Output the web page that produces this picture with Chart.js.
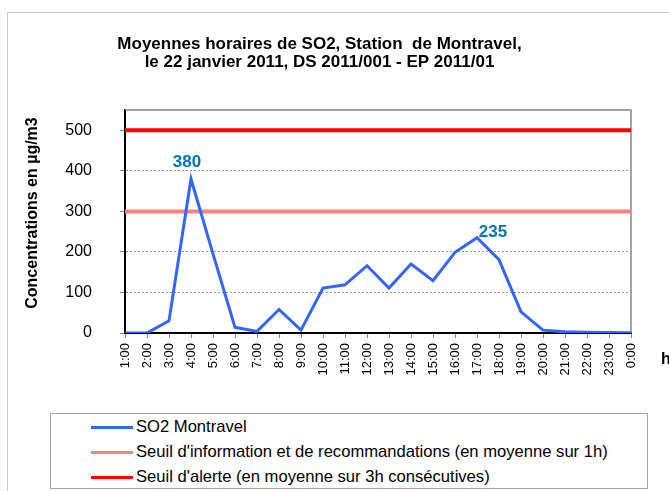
<!DOCTYPE html>
<html>
<head>
<meta charset="utf-8">
<script src="https://cdn.jsdelivr.net/npm/chart.js@4.4.1/dist/chart.umd.min.js"></script>
<style>
  html, body { margin: 0; padding: 0; background: #fff; overflow: hidden; width: 669px; height: 491px; }
  #frame { position: absolute; left: 7px; top: 12px; width: 720px; height: 520px;
           border-left: 1px solid #c8c8c8; border-top: 1px solid #c8c8c8; }
  #wrap { position: absolute; left: 0; top: 0; width: 720px; height: 491px; }
  #legend { position: absolute; left: 50px; top: 413px; width: 596px; height: 74px;
            border: 1px solid #a6a6a6; background: #fff;
            font: 16.6px "Liberation Sans", Arial, sans-serif; color: #000; }
  #legend .row { height: 25px; line-height: 25px; padding-left: 40px; white-space: nowrap; }
  #legend .sw { display: inline-block; width: 42px; vertical-align: middle; margin-right: 3px; }
</style>
</head>
<body>
<div id="frame"></div>
<div id="wrap"><canvas id="myChart" width="720" height="491"></canvas></div>
<div id="legend"></div>
<script>
// heures de la journée
const hours = ['1:00', '2:00', '3:00', '4:00', '5:00', '6:00', '7:00', '8:00', '9:00', '10:00', '11:00', '12:00',
               '13:00', '14:00', '15:00', '16:00', '17:00', '18:00', '19:00', '20:00', '21:00', '22:00', '23:00', '0:00'];

// moyennes horaires SO2 (µg/m3)
const so2Montravel = [0, 0, 30, 380, 195, 14, 4, 58, 7, 111, 119, 166,
                      111, 170, 129, 199, 235, 181, 52, 7, 3, 2, 1, 0.5];

// seuils réglementaires
const seuilInfo = [300, 300, 300, 300, 300, 300, 300, 300, 300, 300, 300, 300,
                   300, 300, 300, 300, 300, 300, 300, 300, 300, 300, 300, 300];
const seuilAlerte = [500, 500, 500, 500, 500, 500, 500, 500, 500, 500, 500, 500,
                     500, 500, 500, 500, 500, 500, 500, 500, 500, 500, 500, 500];

const yTicks = [0, 100, 200, 300, 400, 500];
const peakHours = ['4:00', '17:00'];

const FONT = '"Liberation Sans", Arial, sans-serif';

const data = {
    labels: hours,
    datasets: [
        { label: 'SO2 Montravel', data: so2Montravel, borderColor: '#3366FF', borderWidth: 3 },
        { label: "Seuil d'information et de recommandations (en moyenne sur 1h)", data: seuilInfo, borderColor: '#FF8080', borderWidth: 4 },
        { label: "Seuil d'alerte (en moyenne sur 3h consécutives)", data: seuilAlerte, borderColor: '#FF0000', borderWidth: 4 }
    ]
};

// cadre gris haut / droite de la zone de tracé
const plotFrame = {
    id: 'plotFrame',
    beforeDatasetsDraw(chart) {
        const { ctx, chartArea: a } = chart;
        ctx.save();
        ctx.strokeStyle = '#868686';
        ctx.lineWidth = 1.5;
        ctx.beginPath();
        ctx.moveTo(a.left, a.top);
        ctx.lineTo(a.right, a.top);
        ctx.lineTo(a.right, a.bottom);
        ctx.stroke();
        ctx.restore();
    }
};

// étiquettes des pics + titres des axes
const peakLabels = {
    id: 'peakLabels',
    afterDatasetsDraw(chart) {
        const { ctx } = chart;
        const meta = chart.getDatasetMeta(0);
        const shift = { '4:00': [-4, -17], '17:00': [16, -5] };
        ctx.save();
        ctx.font = 'bold 17px ' + FONT;
        ctx.fillStyle = '#0070C0';
        ctx.textAlign = 'center';
        ctx.textBaseline = 'middle';
        peakHours.forEach(h => {
            const i = hours.indexOf(h);
            const pt = meta.data[i];
            ctx.fillText(String(so2Montravel[i]), pt.x + shift[h][0], pt.y + shift[h][1]);
        });
        ctx.font = 'bold 16px ' + FONT;
        ctx.fillStyle = '#000';
        ctx.textAlign = 'left';
        ctx.fillText('heure', chart.chartArea.right + 30, 360);
        // titre de l'axe y
        ctx.translate(33, 213);
        ctx.rotate(-Math.PI / 2);
        ctx.textAlign = 'center';
        ctx.fillText('Concentrations en µg/m3', 0, 0);
        ctx.restore();
    }
};

const options = {
    responsive: false,
    animation: false,
    layout: { padding: { left: 8, right: 89, top: 0, bottom: 98 } },
    elements: { point: { radius: 0 }, line: { tension: 0 } },
    plugins: {
        legend: { display: false },
        tooltip: { enabled: false },
        title: {
            display: true,
            text: ['Moyennes horaires de SO2, Station  de Montravel,', 'le 22 janvier 2011, DS 2011/001 - EP 2011/01'],
            color: '#000',
            font: { family: FONT, size: 17, weight: 'bold', lineHeight: 1.06 },
            padding: { top: 35, bottom: 39 }
        }
    },
    scales: {
        x: {
            afterFit(scale) { scale.height = 60; },
            grid: { drawOnChartArea: false, color: '#868686', tickLength: 5 },
            border: { color: '#000', width: 2 },
            ticks: { color: '#000', font: { family: FONT, size: 13 }, minRotation: 90, maxRotation: 90, padding: 5, autoSkip: false }
        },
        y: {
            min: 0,
            max: 550,
            afterFit(scale) { scale.width = 117; },
            afterBuildTicks(scale) { scale.ticks = yTicks.map(v => ({ value: v })); },
            grid: { color: '#999', tickColor: '#868686', tickLength: 5, tickBorderDash: [] },
            border: { color: '#000', width: 2, dash: [2, 2] },
            ticks: { color: '#000', font: { family: FONT, size: 16 }, padding: 28 }
        }
    }
};

const chart = new Chart(document.getElementById('myChart'), {
    type: 'line',
    data: data,
    options: options,
    plugins: [plotFrame, peakLabels]
});

// légende HTML encadrée
const legendEl = document.getElementById('legend');
chart.data.datasets.forEach(ds => {
    const row = document.createElement('div');
    row.className = 'row';
    const sw = document.createElement('span');
    sw.className = 'sw';
    sw.style.height = Math.min(ds.borderWidth, 3) + 'px';
    sw.style.background = ds.borderColor;
    row.appendChild(sw);
    row.appendChild(document.createTextNode(ds.label));
    legendEl.appendChild(row);
});
</script>
</body>
</html>
